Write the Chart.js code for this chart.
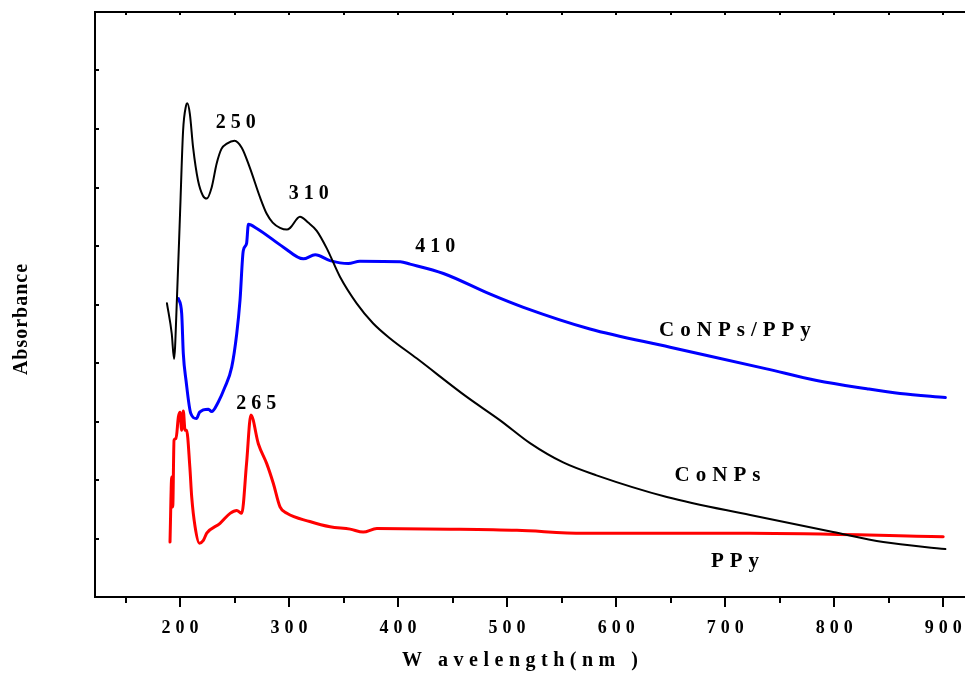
<!DOCTYPE html>
<html>
<head>
<meta charset="utf-8">
<script src="https://cdn.jsdelivr.net/npm/chart.js@4.4.1/dist/chart.umd.min.js"></script>
<style>
  html, body { margin: 0; padding: 0; background: #ffffff; }
  #wrap { width: 965px; height: 675px; }
</style>
</head>
<body>
<div id="wrap"><canvas id="spectra" width="965" height="675"></canvas></div>
<script>
// UV-Vis absorption spectra (arbitrary absorbance units)
const coNPsWl  = [188, 192.4, 194.5, 197.2, 200, 202.8, 205.5, 206.7, 209, 212, 216.5, 221, 224.5, 229, 233.6, 238, 243, 250, 256.6, 264, 273.4, 279.5, 285, 291.7, 298, 301, 310, 317.5, 325.4, 334.6, 346.8, 362, 377, 392.7, 417, 463, 493.6, 521, 551.4, 582, 646.5, 723, 799, 845, 902];
const coNPsAbs = [5.02, 4.50, 4.07, 5.12, 6.55, 7.97, 8.40, 8.44, 8.26, 7.68, 7.12, 6.86, 6.81, 7.00, 7.41, 7.66, 7.75, 7.80, 7.68, 7.34, 6.83, 6.55, 6.40, 6.31, 6.28, 6.31, 6.50, 6.40, 6.26, 5.96, 5.47, 5.02, 4.68, 4.42, 4.08, 3.42, 3.02, 2.63, 2.30, 2.08, 1.71, 1.40, 1.11, 0.94, 0.82];

const compositeWl  = [198.5, 201.5, 203, 205.5, 209.8, 215, 218, 226, 229, 235, 241, 247.4, 252, 255, 258, 261, 262.7, 270.4, 294.8, 313, 324, 337.6, 354.4, 365, 402, 411, 441.6, 484, 515, 576, 649.5, 738, 784, 830, 860.5, 902];
const compositeAbs = [5.10, 4.85, 4.16, 3.70, 3.14, 3.05, 3.16, 3.21, 3.17, 3.33, 3.58, 3.93, 4.50, 5.07, 5.92, 6.04, 6.37, 6.30, 5.98, 5.78, 5.85, 5.75, 5.70, 5.74, 5.73, 5.69, 5.53, 5.18, 4.95, 4.58, 4.27, 3.90, 3.70, 3.56, 3.48, 3.41];

const ppyWl  = [190.8, 192.4, 193.3, 194.5, 196.3, 198.5, 200, 201.5, 203, 204.6, 206, 209, 210.7, 213.8, 217.7, 221.4, 224.5, 236.7, 245.9, 252, 256.6, 261, 265, 271.8, 279.5, 285.6, 291.7, 298, 319, 337.6, 356, 368, 380.5, 447.7, 509, 570, 723, 900];
const ppyAbs = [0.94, 2.05, 1.54, 2.68, 2.71, 3.08, 3.16, 2.85, 3.18, 2.85, 2.85, 2.22, 1.71, 1.20, 0.92, 0.97, 1.09, 1.26, 1.43, 1.48, 1.43, 2.28, 3.11, 2.62, 2.28, 1.94, 1.54, 1.43, 1.29, 1.20, 1.16, 1.11, 1.17, 1.16, 1.14, 1.09, 1.09, 1.03];

// Axis ticks
const xMajorTicks = [200, 300, 400, 500, 600, 700, 800, 900];
const xMinorTicks = [150, 250, 350, 450, 550, 650, 750, 850];
const yTicks = [0, 1, 2, 3, 4, 5, 6, 7, 8, 9, 10];

// Peak annotations (wavelength in nm) and where their text sits
const peakLabels = ['250', '310', '410', '265'];
const peakTextWl = [251, 318, 434, 270];
const peakTextAbs = [8.10, 6.89, 5.98, 3.30];

// Curve names written next to each trace
const curveNames = ['CoNPs/PPy', 'CoNPs', 'PPy'];
const curveNameWl = [709, 693, 709];
const curveNameAbs = [4.56, 2.08, 0.60];

const xTitle = 'W avelength(nm )';
const yTitle = 'Absorbance';

const serif = '"Liberation Serif", "Times New Roman", serif';

function toPoints(xs, ys) {
  return xs.map((x, i) => ({ x: x, y: ys[i] }));
}

function spacedText(ctx, text, x, y, size, spacing) {
  ctx.save();
  ctx.font = 'bold ' + size + 'px ' + serif;
  ctx.letterSpacing = spacing + 'px';
  ctx.textBaseline = 'middle';
  ctx.textAlign = 'left';
  ctx.fillStyle = '#000';
  const w = ctx.measureText(text).width - spacing;
  ctx.fillText(text, x - w / 2, y);
  ctx.restore();
}

const frameAndText = {
  id: 'frameAndText',
  afterDraw(chart) {
    const ctx = chart.ctx;
    const a = chart.chartArea;
    const xs = chart.scales.x;
    const ys = chart.scales.y;
    ctx.save();
    ctx.strokeStyle = '#000';
    ctx.lineWidth = 2;
    ctx.lineCap = 'butt';
    // frame: left, top and bottom edges
    ctx.beginPath();
    ctx.moveTo(a.left, a.top); ctx.lineTo(a.right, a.top);
    ctx.moveTo(a.left, a.top - 1); ctx.lineTo(a.left, a.bottom + 1);
    ctx.moveTo(a.left - 1, a.bottom); ctx.lineTo(a.right, a.bottom);
    ctx.stroke();

    ctx.beginPath();
    // x ticks: long below for hundreds, short between; tiny inward ones on top
    xMajorTicks.concat(xMinorTicks).forEach(v => {
      const px = Math.round(xs.getPixelForValue(v));
      const major = xMajorTicks.includes(v);
      ctx.moveTo(px, a.bottom);
      ctx.lineTo(px, a.bottom + (major ? 10 : 6));
      ctx.moveTo(px, a.top);
      ctx.lineTo(px, a.top + 3);
    });
    // y ticks point inward
    yTicks.forEach(v => {
      const py = Math.round(ys.getPixelForValue(v));
      ctx.moveTo(a.left, py);
      ctx.lineTo(a.left + 4, py);
    });
    ctx.stroke();
    ctx.restore();

    // tick labels
    xMajorTicks.forEach(v => {
      spacedText(ctx, String(v), xs.getPixelForValue(v), a.bottom + 31, 18, 5);
    });

    // axis titles
    spacedText(ctx, xTitle, (a.left + a.right) / 2 - 10, a.bottom + 64, 20, 5.5);
    ctx.save();
    ctx.translate(22, (a.top + a.bottom) / 2 + 15);
    ctx.rotate(-Math.PI / 2);
    spacedText(ctx, yTitle, 0, 0, 20, 1);
    ctx.restore();

    // peak wavelengths
    peakLabels.forEach((s, i) => {
      spacedText(ctx, s, xs.getPixelForValue(peakTextWl[i]), ys.getPixelForValue(peakTextAbs[i]), 20, 5);
    });
    // curve names
    curveNames.forEach((s, i) => {
      spacedText(ctx, s, xs.getPixelForValue(curveNameWl[i]), ys.getPixelForValue(curveNameAbs[i]), 21, 6);
    });
  }
};

new Chart(document.getElementById('spectra'), {
  type: 'line',
  data: {
    datasets: [
      { label: 'CoNPs', data: toPoints(coNPsWl, coNPsAbs), borderColor: '#000000', borderWidth: 2 },
      { label: 'CoNPs/PPy', data: toPoints(compositeWl, compositeAbs), borderColor: '#0000ff', borderWidth: 3 },
      { label: 'PPy', data: toPoints(ppyWl, ppyAbs), borderColor: '#ff0000', borderWidth: 3 }
    ]
  },
  options: {
    responsive: false,
    devicePixelRatio: 1,
    animation: false,
    layout: { padding: { top: 12, left: 0, right: 0, bottom: 0 } },
    elements: {
      point: { radius: 0, hoverRadius: 0 },
      line: { tension: 0.35, cubicInterpolationMode: 'monotone', fill: false, borderJoinStyle: 'round', borderCapStyle: 'round' }
    },
    plugins: { legend: { display: false }, tooltip: { enabled: false }, title: { display: false } },
    scales: {
      x: {
        type: 'linear',
        min: 122,
        max: 920,
        ticks: { display: false },
        grid: { display: false },
        border: { display: false },
        afterFit(scale) { scale.height = 78; }
      },
      y: {
        type: 'linear',
        min: 0,
        max: 10,
        ticks: { display: false },
        grid: { display: false },
        border: { display: false },
        afterFit(scale) { scale.width = 95; }
      }
    }
  },
  plugins: [frameAndText]
});
</script>
</body>
</html>
